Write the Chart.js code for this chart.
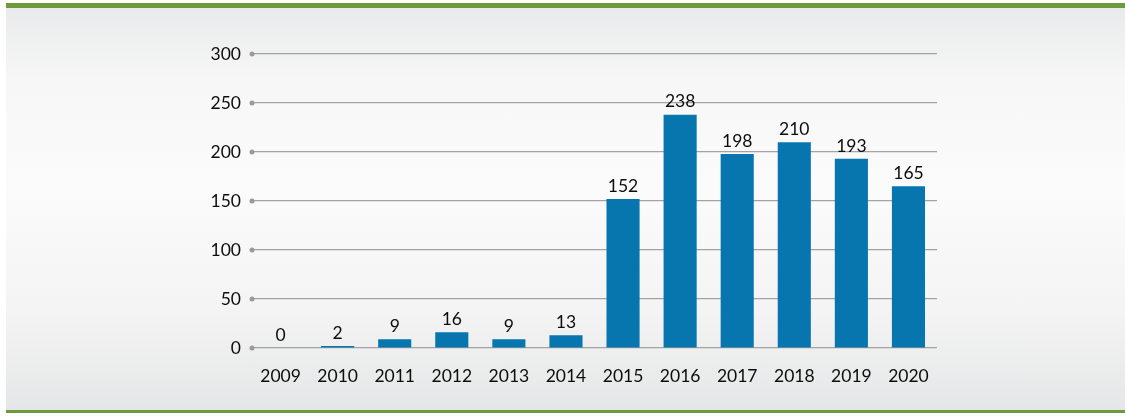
<!DOCTYPE html>
<html>
<head>
<meta charset="utf-8">
<script src="https://cdn.jsdelivr.net/npm/chart.js@4/dist/chart.umd.min.js"></script>
<style>
  body { margin: 0; background: #fff; }
  #fondo {
    position: absolute; left: 6px; top: 3px; width: 1119px; height: 410px;
    border-top: 5px solid #6c9b3b;
    border-bottom: 3px solid #6c9b3b;
    box-sizing: border-box;
    background: linear-gradient(to bottom, #e9eaeb 0%, #f7f7f7 18%, #fbfbfb 45%, #f4f4f4 75%, #e5e6e7 100%);
  }
  #contenedor { position: absolute; left: 0; top: 0; width: 1125px; height: 416px; }
</style>
</head>
<body>
<div id="fondo"></div>
<div id="contenedor"><canvas id="bar-chart"></canvas></div>
<script>
const anios = ["2009","2010","2011","2012","2013","2014","2015","2016","2017","2018","2019","2020"];
const valores = [0, 2, 9, 16, 9, 13, 152, 238, 198, 210, 193, 165];
const ticksY = [0, 50, 100, 150, 200, 250, 300];

const fuente = { family: "Lato", size: 17.5 };

// puntos grises al inicio de cada linea de la grilla
const puntosEje = {
  id: "puntosEje",
  afterDraw(chart) {
    const ctx = chart.ctx;
    const y = chart.scales.y;
    ctx.save();
    ctx.fillStyle = "#9a9a9a";
    ticksY.forEach(v => {
      ctx.beginPath();
      ctx.arc(chart.chartArea.left, y.getPixelForValue(v), 2.5, 0, Math.PI * 2);
      ctx.fill();
    });
    ctx.restore();
  }
};

// etiquetas con el valor encima de cada barra
const etiquetas = {
  id: "etiquetas",
  afterDatasetsDraw(chart) {
    const ctx = chart.ctx;
    const meta = chart.getDatasetMeta(0);
    ctx.save();
    ctx.font = "17.5px Lato";
    ctx.fillStyle = "#0d0d0d";
    ctx.textAlign = "center";
    ctx.textBaseline = "middle";
    meta.data.forEach((bar, i) => {
      ctx.fillText(valores[i], bar.x, bar.y - 13);
    });
    ctx.restore();
  }
};

const contenedorBarChart = document.querySelector("#bar-chart").getContext("2d");

const barChart = new Chart(contenedorBarChart, {
  type: "bar",
  data: {
    labels: anios,
    datasets: [{
      data: valores,
      backgroundColor: "#0776ae",
      barPercentage: 0.58,
      categoryPercentage: 1.0
    }]
  },
  options: {
    responsive: true,
    maintainAspectRatio: false,
    animation: false,
    layout: { padding: { top: 54, right: 188, left: 0, bottom: 0 } },
    plugins: { legend: { display: false }, tooltip: { enabled: false } },
    scales: {
      x: {
        grid: { display: false, drawTicks: false },
        border: { display: false },
        ticks: { font: fuente, color: "#0d0d0d", padding: 18, maxRotation: 0 },
        afterFit(scale) { scale.height = 68; }
      },
      y: {
        min: 0, max: 300,
        afterBuildTicks(scale) { scale.ticks = ticksY.map(v => ({ value: v })); },
        grid: { color: "#a3a3a3", lineWidth: 1.2, drawTicks: false },
        border: { display: false },
        ticks: { font: fuente, color: "#0d0d0d", padding: 11 },
        afterFit(scale) { scale.width = 252; }
      }
    }
  },
  plugins: [puntosEje, etiquetas]
});
</script>
</body>
</html>
